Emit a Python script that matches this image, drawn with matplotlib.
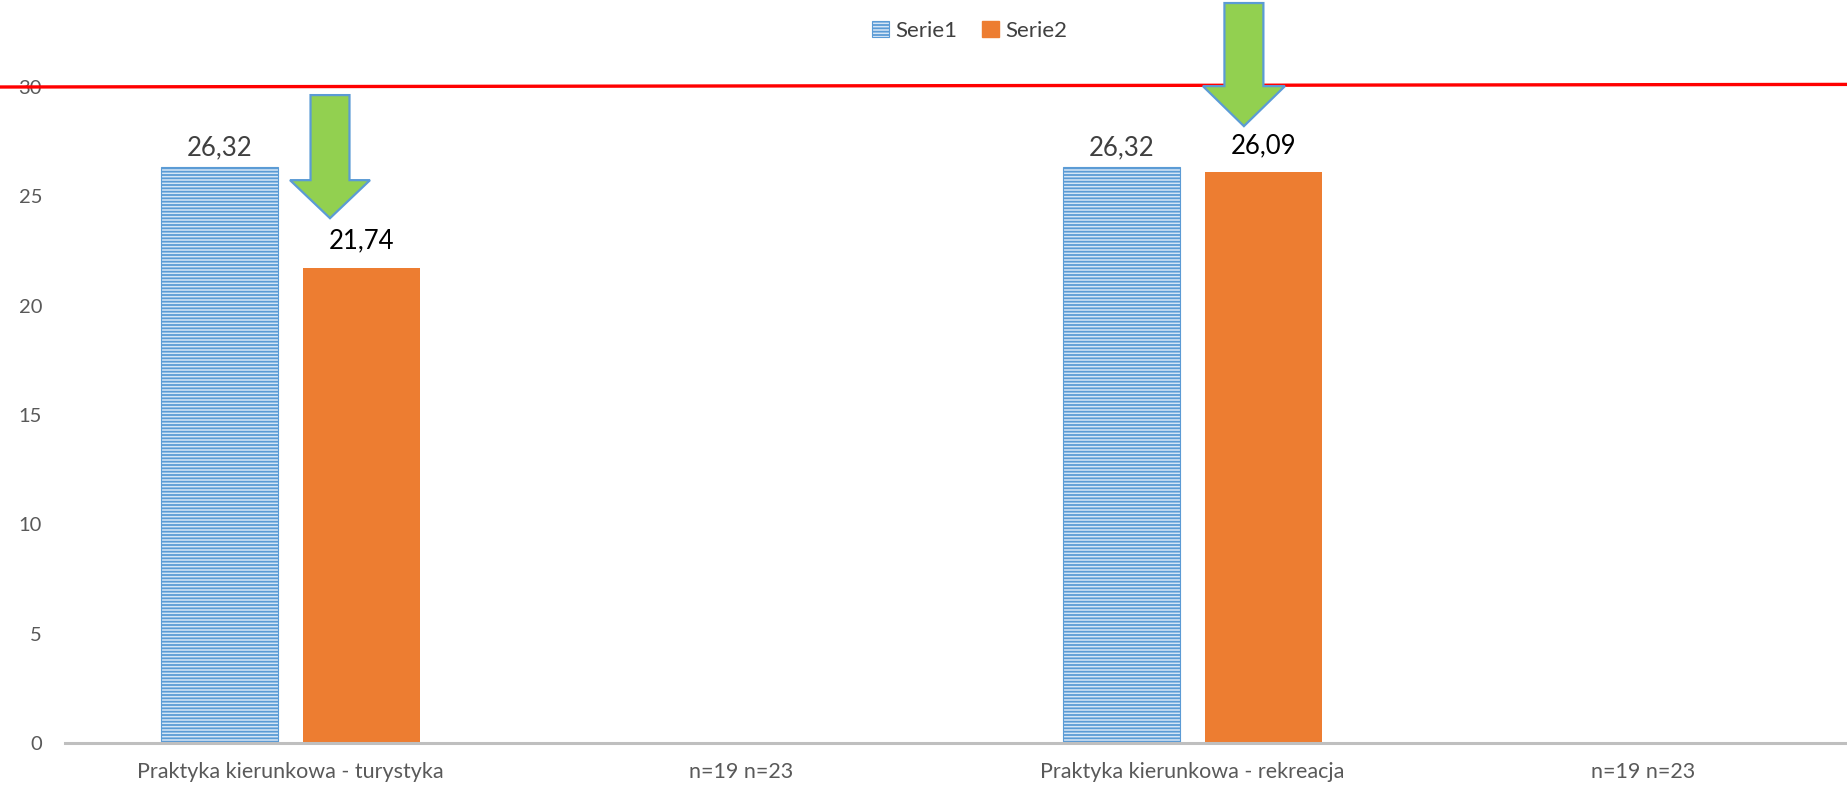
import numpy as np
import matplotlib
matplotlib.use("Agg")
import matplotlib.pyplot as plt
from matplotlib.patches import Polygon, Patch
from matplotlib.transforms import blended_transform_factory

categories = ["Praktyka kierunkowa - turystyka", "n=19 n=23",
              "Praktyka kierunkowa - rekreacja", "n=19 n=23"]
serie1 = [26.32, np.nan, 26.32, np.nan]
serie2 = [21.74, np.nan, 26.09, np.nan]
series_names = ["Serie1", "Serie2"]
label1 = ["26,32", "", "26,32", ""]
label2 = ["21,74", "", "26,09", ""]
yticks = [0, 5, 10, 15, 20, 25, 30]
threshold = 30

plt.rcParams['font.family'] = ['Lato', 'DejaVu Sans']
plt.rcParams['hatch.linewidth'] = 1.3

W, H = 1847, 785
fig = plt.figure(figsize=(W / 100, H / 100), dpi=100)
ax = fig.add_axes([65 / W, 42 / H, 1804 / W, 656 / H])

x = np.arange(len(categories))
bw = 0.26
off = 0.158
blue = '#5B9BD5'
orange = '#ED7D31'

ax.bar(x - off, serie1, bw, facecolor='#D6E6F6', edgecolor=blue, hatch='-----', linewidth=0.8, zorder=2)
ax.bar(x + off, serie2, bw, color=orange, zorder=2)

for i in range(len(categories)):
    if label1[i]:
        ax.annotate(label1[i], (x[i] - off, serie1[i]), xytext=(0, 14.5), textcoords='offset points',
                    ha='center', va='center', fontsize=18.5, color='#404040')
    if label2[i]:
        ax.annotate(label2[i], (x[i] + off, serie2[i]), xytext=(0, 19.5), textcoords='offset points',
                    ha='center', va='center', fontsize=18.5, color='#000000')

ax.set_xlim(-0.5, len(categories) - 0.5)
ax.set_ylim(0, 30)
ax.set_xticks(x)
ax.set_xticklabels(categories)
ax.set_yticks(yticks)
ax.tick_params(axis='both', length=0, labelsize=14.5, labelcolor='#595959')
ax.tick_params(axis='x', labelsize=15.5, pad=13.5)
ax.tick_params(axis='y', pad=16.5)
for s in ['top', 'right', 'left']:
    ax.spines[s].set_visible(False)
ax.spines['bottom'].set_color('#BFBFBF')
ax.spines['bottom'].set_linewidth(2.2)
ax.spines['bottom'].set_zorder(3)

# red threshold line
tr = blended_transform_factory(ax.transAxes, ax.transData)
ax.plot([-65 / 1804, 1.0], [threshold, threshold + 0.12], color='#FF0000', lw=2.4,
        transform=tr, clip_on=False, zorder=4)

# green arrows pointing down toward the Serie2 bars
def down_arrow(xc, y_top, y_head, y_tip, shaft_hw, head_hw):
    pts = [(xc - shaft_hw, y_top), (xc + shaft_hw, y_top), (xc + shaft_hw, y_head),
           (xc + head_hw, y_head), (xc, y_tip), (xc - head_hw, y_head), (xc - shaft_hw, y_head)]
    ax.add_patch(Polygon(pts, closed=True, facecolor='#92D050', edgecolor=blue, lw=1.6,
                         clip_on=False, zorder=5))

down_arrow(0.0876, 29.63, 25.74, 24.0, 0.0432, 0.0887)
down_arrow(2.114, 33.84, 30.04, 28.21, 0.0432, 0.091)

handles = [Patch(facecolor='#D6E6F6', edgecolor=blue, hatch='-----', lw=0.8),
           Patch(facecolor=orange, edgecolor=orange)]
fig.legend(handles, series_names, loc='center', bbox_to_anchor=(970 / W, 1 - 31 / H), ncol=2,
           frameon=False, fontsize=16, handlelength=0.75, handleheight=0.75, handletextpad=0.3,
           columnspacing=1.1, labelcolor='#404040')

fig.savefig('out.png', dpi=100)
